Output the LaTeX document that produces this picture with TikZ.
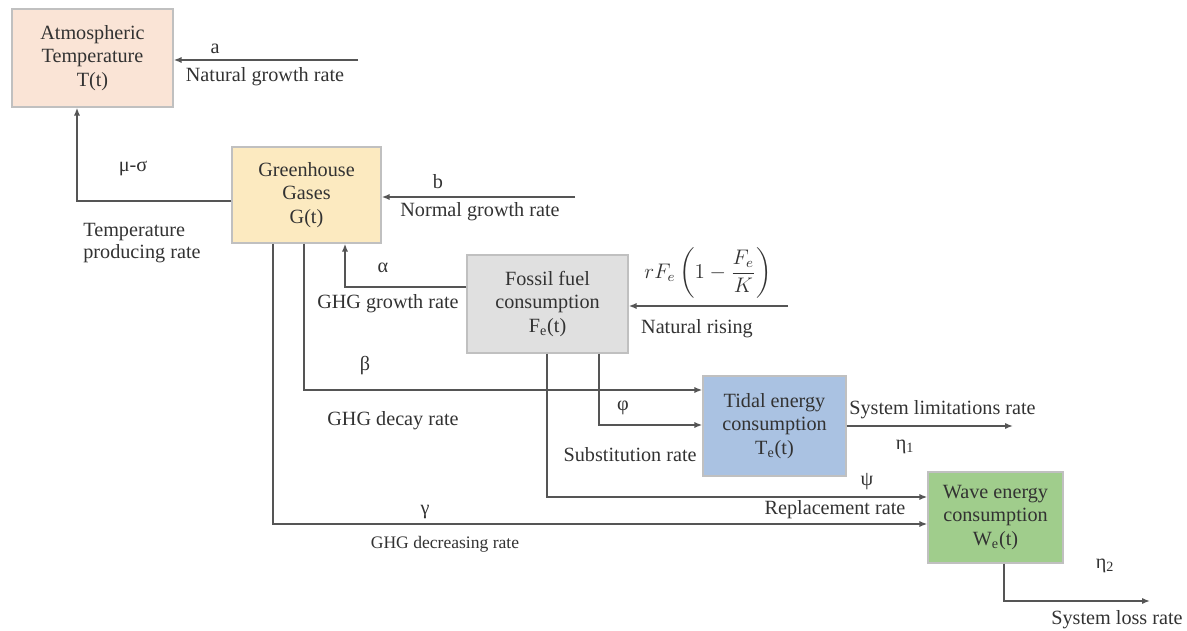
\documentclass[tikz,border=0pt]{standalone}
\usepackage{amsmath}
\usepackage{fontspec}
\setmainfont{Liberation Serif}
\usetikzlibrary{positioning, arrows.meta, calc}
\definecolor{TempFill}{RGB}{250,228,214}
\definecolor{GasFill}{RGB}{252,234,192}
\definecolor{FossilFill}{RGB}{224,224,224}
\definecolor{TidalFill}{RGB}{170,194,226}
\definecolor{WaveFill}{RGB}{160,205,140}
\definecolor{BoxLine}{RGB}{192,192,192}
\definecolor{FlowGray}{RGB}{85,85,85}
\definecolor{InkGray}{RGB}{50,50,50}

\begin{document}
\begin{tikzpicture}[x=0.02cm, y=-0.02cm,
    stockbox/.style={draw=BoxLine, line width=0.8pt, align=center, text=InkGray,
        font=\fontsize{11.5}{13.5}\selectfont, inner sep=2pt},
    flow/.style={draw=FlowGray, line width=0.8pt, -{Latex[length=4.5pt, width=3.5pt]}},
    rate/.style={text=InkGray, font=\fontsize{11.5}{13}\selectfont, inner sep=0pt},
    smallrate/.style={rate, font=\fontsize{10}{11}\selectfont}]
    \useasboundingbox (0,0) rectangle (1187,631);
    % Nodos
    \node[stockbox, fill=TempFill, minimum width=3.22cm, minimum height=1.96cm] (T) at (92.5,58) {Atmospheric\\Temperature\\T(t)};
    \node[stockbox, fill=GasFill, minimum width=2.98cm, minimum height=1.92cm] (G) at (306.5,195) {Greenhouse\\Gases\\G(t)};
    \node[stockbox, fill=FossilFill, minimum width=3.22cm, minimum height=1.96cm] (F) at (547.5,304) {Fossil fuel\\consumption\\F\textsubscript{e}(t)};
    \node[stockbox, fill=TidalFill, minimum width=2.86cm, minimum height=2.0cm] (Td) at (774.5,426) {Tidal energy\\consumption\\T\textsubscript{e}(t)};
    \node[stockbox, fill=WaveFill, minimum width=2.7cm, minimum height=1.82cm] (W) at (995.5,517.5) {Wave energy\\consumption\\W\textsubscript{e}(t)};

    \coordinate (inT) at (358,60);
    \coordinate (inG) at (575,197);
    \coordinate (inF) at (788,306);
    \coordinate (outTd) at (1013,426);
    \coordinate (outW) at (1150,601);

    % Conexiones
    \draw[flow] (inT) -- (inT -| T.east);
    \draw[flow] ($(G.west)+(0,6)$) -| ($(T.south)+(-15.5,0)$);
    \draw[flow] (inG) -- (inG -| G.east);
    \draw[flow] ($(F.west)+(0,-17)$) -| ($(G.south)+(38.5,0)$);
    \draw[flow] (inF) -- (inF -| F.east);
    \draw[flow] ($(G.south)+(-2.5,0)$) |- ($(Td.west)+(0,-36)$);
    \draw[flow] ($(F.south)+(51.5,0)$) |- ($(Td.west)+(0,-1)$);
    \draw[flow] ($(F.south)+(-0.5,0)$) |- ($(W.west)+(0,-20.5)$);
    \draw[flow] ($(G.south)+(-33.5,0)$) |- ($(W.west)+(0,6.5)$);
    \draw[flow] (Td.east) -- (outTd);
    \draw[flow] ($(W.south)+(8.5,0)$) |- (outW);

    % Etiquetas
    \node[rate] (la) at (215,49) {a};
    \node[rate] (lnat) at (265,77) {Natural growth rate};
    \node[rate] (lmu) at (133,168) {μ-σ};
    \node[rate, anchor=west, align=left] (ltemp) at (83,243) {Temperature\\producing rate};
    \node[rate] (lb) at (438,182) {b};
    \node[rate] (lnorm) at (480,212) {Normal growth rate};
    \node[rate] (lal) at (383,268) {α};
    \node[rate, anchor=east] (lghg) at (459,304) {GHG growth rate};
    \node[rate] (lform) at (708,273) {$\displaystyle rF_e\left(1-\frac{F_e}{K}\right)$};
    \node[rate] (lrise) at (697,329) {Natural rising};
    \node[rate] (lbe) at (365,366) {β};
    \node[rate] (ldec) at (393,421) {GHG decay rate};
    \node[rate] (lphi) at (623,408) {φ};
    \node[rate, anchor=east] (lsub) at (697,455) {Substitution rate};
    \node[rate, anchor=west] (llim) at (849,410) {System limitations rate};
    \node[rate] (leta1) at (905,447) {η\textsubscript{1}};
    \node[rate] (lpsi) at (867,482) {ψ};
    \node[rate] (lrep) at (835,510) {Replacement rate};
    \node[rate] (lga) at (425,512) {γ};
    \node[smallrate] (ldecr) at (445,544) {GHG decreasing rate};
    \node[rate] (leta2) at (1105,566) {η\textsubscript{2}};
    \node[rate] (lloss) at (1117,620) {System loss rate};
\end{tikzpicture}
\end{document}
